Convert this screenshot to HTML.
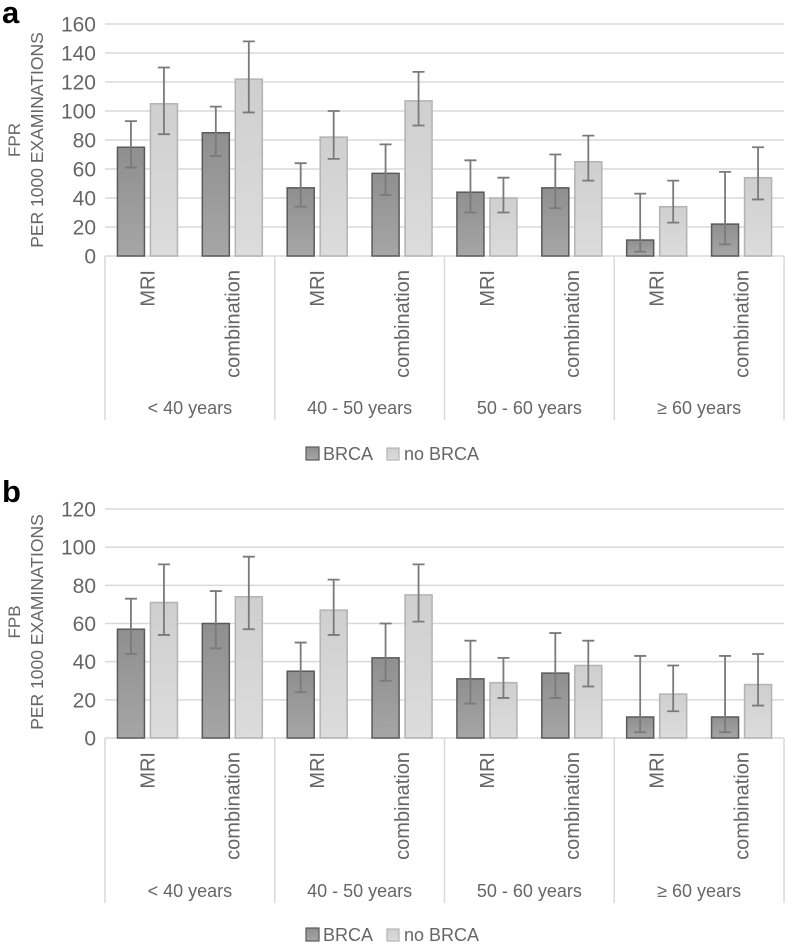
<!DOCTYPE html>
<html><head><meta charset="utf-8"><style>
html,body{margin:0;padding:0;background:#fff;}
svg{display:block;font-family:"Liberation Sans",Arial,sans-serif;}
</style></head><body>
<svg id="chart" width="787" height="944" viewBox="0 0 787 944" xmlns="http://www.w3.org/2000/svg">
<defs>
<linearGradient id="gd" x1="0" y1="0" x2="0" y2="1"><stop offset="0" stop-color="#8f8f8f"/><stop offset="1" stop-color="#a6a6a6"/></linearGradient>
<linearGradient id="gl" x1="0" y1="0" x2="0" y2="1"><stop offset="0" stop-color="#cfcfcf"/><stop offset="1" stop-color="#dcdcdc"/></linearGradient>
</defs>
<text x="2" y="23" font-size="31" font-weight="bold" fill="#000">a</text>
<text x="2" y="502" font-size="31" font-weight="bold" fill="#000">b</text>
</svg>
<script>
const groups = ["< 40 years","40 - 50 years","50 - 60 years","≥ 60 years"];
const subcats = ["MRI","combination"];
const seriesNames = ["BRCA","no BRCA"];
// Panel a (FPR)
const aBrca = [75,85,47,57,44,47,11,22];
const aBrcaLo = [61,69,34,42,30,33,3,8];
const aBrcaHi = [93,103,64,77,66,70,43,58];
const aNo = [105,122,82,107,40,65,34,54];
const aNoLo = [84,99,67,90,30,52,23,39];
const aNoHi = [130,148,100,127,54,83,52,75];
const aTicks = [0,20,40,60,80,100,120,140,160];
// Panel b (FPB)
const bBrca = [57,60,35,42,31,34,11,11];
const bBrcaLo = [44,47,24,30,18,21,3,3];
const bBrcaHi = [73,77,50,60,51,55,43,43];
const bNo = [71,74,67,75,29,38,23,28];
const bNoLo = [54,57,54,61,21,27,14,17];
const bNoHi = [91,95,83,91,42,51,38,44];
const bTicks = [0,20,40,60,80,100,120];

const svg = document.getElementById('chart');
const NS = "http://www.w3.org/2000/svg";
function mk(tag, attrs, parent){const e=document.createElementNS(NS,tag);for(const k in attrs)e.setAttribute(k,attrs[k]);(parent||svg).appendChild(e);return e;}

function panel(cfg){
  const g = mk('g',{});
  
  
  const x0=105, x1=784, n=groups.length*subcats.length;
  const subW=(x1-x0)/n;
  const maxV=cfg.ticks[cfg.ticks.length-1];
  const y=v=>cfg.y0-(v/maxV)*(cfg.y0-cfg.yTop);
  cfg.ticks.forEach(t=>{
    if(t>0){const l=mk('line',{x1:x0,x2:x1,y1:y(t),y2:y(t),stroke:'#d9d9d9','stroke-width':1.5},g);
    
    }
    const tx=mk('text',{x:96,y:y(t)+7.5,'text-anchor':'end','font-size':21,fill:'#666'},g);
    tx.textContent=t;
    
    
  });
  const ax=mk('line',{x1:x0,x2:x1,y1:cfg.y0,y2:cfg.y0,stroke:'#d9d9d9','stroke-width':1.5},g);
  
  
  for(let i=0;i<=groups.length;i++){
    const xx=x0+i*2*subW;
    const l=mk('line',{x1:xx,x2:xx,y1:cfg.y0,y2:cfg.boxBottom,stroke:'#d9d9d9','stroke-width':1.5},g);
    
    
  }
  const series=[[cfg.s1,cfg.s1lo,cfg.s1hi,'url(#gd)','#5a5a5a',-1],[cfg.s2,cfg.s2lo,cfg.s2hi,'url(#gl)','#b3b3b3',1]];
  for(let i=0;i<n;i++){
    const cx=x0+(i+0.5)*subW;
    series.forEach((s,si)=>{
      const bx = s[5]<0 ? cx-30 : cx+3;
      const r=mk('rect',{x:bx,y:y(s[0][i]),width:27,height:cfg.y0-y(s[0][i]),fill:s[3],stroke:s[4],'stroke-width':1.5},g);
      
      
      const ex=bx+13.5;
      const e=mk('path',{d:`M${ex},${y(s[2][i])}V${y(s[1][i])}M${ex-6},${y(s[2][i])}H${ex+6}M${ex-6},${y(s[1][i])}H${ex+6}`,stroke:'#7a7a7a','stroke-width':1.8,fill:'none'},g);
      
      
    });
    const t=mk('text',{transform:`translate(${cx+7},${cfg.y0+14}) rotate(-90)`,'text-anchor':'end','font-size':20,fill:'#666'},g);
    t.textContent=subcats[i%2];
    
    
  }
  groups.forEach((gr,gi)=>{
    const t=mk('text',{x:x0+(gi+0.5)*2*subW,y:cfg.groupY,'text-anchor':'middle','font-size':18,fill:'#666'},g);
    t.textContent=gr;
    
    
  });
  const yc=cfg.titleY;
  const t1=mk('text',{transform:`translate(20,${yc}) rotate(-90)`,'text-anchor':'middle','font-size':17,fill:'#666'},g);
  t1.textContent=cfg.title;
  
  
  const t2=mk('text',{transform:`translate(43,${yc}) rotate(-90)`,'text-anchor':'middle','font-size':17.5,fill:'#666'},g);
  t2.textContent="PER 1000 EXAMINATIONS";
  
  
  const lg=mk('g',{},g);
  
  
  const r1=mk('rect',{x:306,y:cfg.legendY,width:13,height:13,fill:'url(#gd)',stroke:'#5a5a5a','stroke-width':1.2},lg);
  
  
  const l1=mk('text',{x:323,y:cfg.legendY+13,'font-size':18,fill:'#666'},lg);
  l1.textContent=seriesNames[0];
  
  
  const r2=mk('rect',{x:387,y:cfg.legendY+1,width:12,height:12,fill:'url(#gl)',stroke:'#b3b3b3','stroke-width':1.2},lg);
  
  
  const l2=mk('text',{x:404,y:cfg.legendY+13,'font-size':18,fill:'#666'},lg);
  l2.textContent=seriesNames[1];
  
  
}
panel({name:'panel-a-chart',ticks:aTicks,y0:256,yTop:24,boxBottom:420,groupY:414,titleY:140,legendY:447,title:'FPR',
  s1:aBrca,s1lo:aBrcaLo,s1hi:aBrcaHi,s2:aNo,s2lo:aNoLo,s2hi:aNoHi});
panel({name:'panel-b-chart',ticks:bTicks,y0:738,yTop:509,boxBottom:903,groupY:897,titleY:622,legendY:928,title:'FPB',
  s1:bBrca,s1lo:bBrcaLo,s1hi:bBrcaHi,s2:bNo,s2lo:bNoLo,s2hi:bNoHi});
</script>
</body></html>
